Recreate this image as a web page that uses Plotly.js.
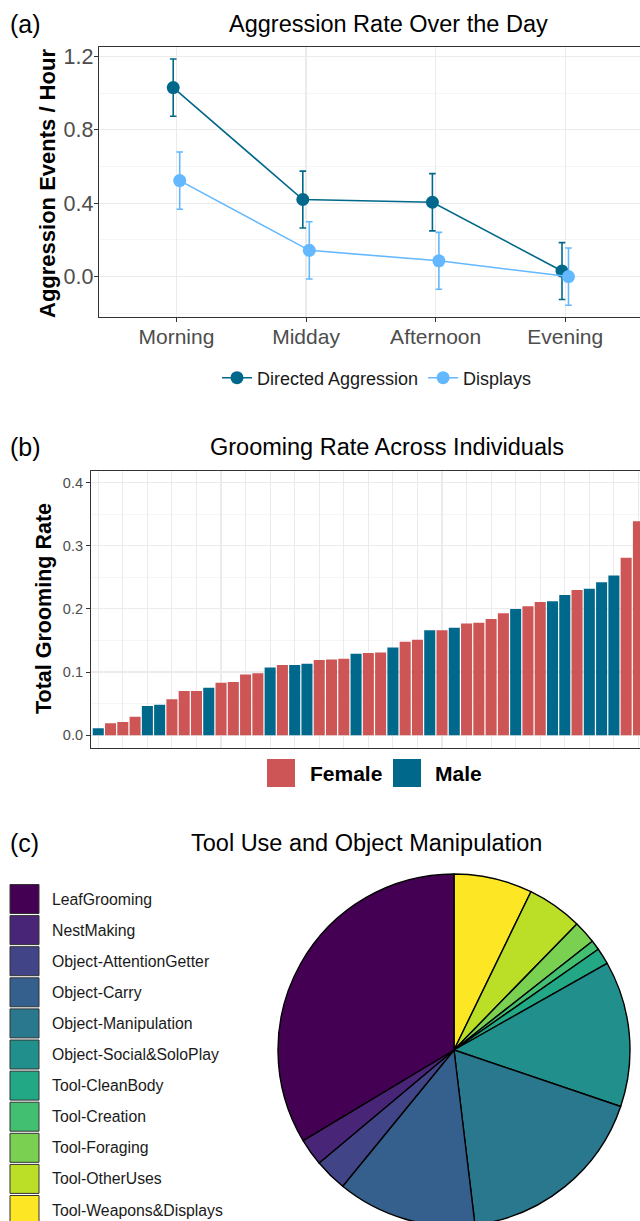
<!DOCTYPE html>
<html><head><meta charset="utf-8">
<script src="https://cdn.plot.ly/plotly-3.0.1.min.js"></script>
<style>
html,body{margin:0;padding:0;overflow:hidden;background:#fff}
#chart{width:640px;height:1221px;overflow:hidden}
</style>
</head><body><div id="chart"></div>
<script>
// ---------- (a) Aggression rate over the day ----------
const timeOfDay = ["Morning", "Midday", "Afternoon", "Evening"];
const directedAggression = [1.03, 0.42, 0.405, 0.03];
const directedAggressionSE = [0.156, 0.155, 0.156, 0.155];
const displays = [0.523, 0.143, 0.086, 0.0];
const displaysSE = [0.156, 0.156, 0.155, 0.156];

// ---------- (b) Grooming rate across individuals ----------
const individuals = ["I01","I02","I03","I04","I05","I06","I07","I08","I09","I10",
  "I11","I12","I13","I14","I15","I16","I17","I18","I19","I20",
  "I21","I22","I23","I24","I25","I26","I27","I28","I29","I30",
  "I31","I32","I33","I34","I35","I36","I37","I38","I39","I40",
  "I41","I42","I43","I44","I45"];
const groomingRate = [0.011, 0.019, 0.021, 0.029, 0.046, 0.048, 0.057, 0.070, 0.070, 0.075,
  0.083, 0.084, 0.096, 0.098, 0.107, 0.111, 0.111, 0.113, 0.119, 0.120,
  0.121, 0.129, 0.130, 0.131, 0.139, 0.148, 0.151, 0.166, 0.166, 0.170,
  0.177, 0.178, 0.184, 0.193, 0.200, 0.204, 0.211, 0.212, 0.222, 0.230,
  0.232, 0.242, 0.253, 0.281, 0.339];
const sex = ["Male","Female","Female","Female","Male","Male","Female","Female","Female","Male",
  "Female","Female","Female","Female","Male","Female","Male","Male","Female","Female",
  "Female","Male","Female","Female","Male","Female","Female","Male","Female","Male",
  "Female","Female","Female","Female","Male","Female","Female","Male","Male","Female",
  "Male","Male","Male","Female","Female"];
const sexLevels = ["Female", "Male"];
const sexColors = {"Female": "#CD5555", "Male": "#00688B"};

// ---------- (c) Tool use and object manipulation ----------
const toolCategories = ["LeafGrooming","NestMaking","Object-AttentionGetter","Object-Carry",
  "Object-Manipulation","Object-Social&SoloPlay","Tool-CleanBody","Tool-Creation",
  "Tool-Foraging","Tool-OtherUses","Tool-Weapons&Displays"];
const toolShares = [33.6, 2.5, 3.0, 12.8, 17.9, 13.4, 1.5, 0.9, 2.1, 5.1, 7.2];
const toolColors = ["#440154","#482576","#414487","#35608D","#2A788E","#21908C",
  "#22A884","#43BF71","#7AD151","#BBDF27","#FDE725"];

// ---------- layout helpers ----------
const W = 660, H = 1235;
const FONT = "Liberation Sans, Arial, Helvetica, sans-serif";
const px = v => v / W;
const py = v => 1 - v / H;
const dodge = 0.025;

const axisCommon = {
  showline: true, mirror: true, linecolor: "#333333", linewidth: 1,
  ticks: "outside", ticklen: 4, tickcolor: "#333333", tickwidth: 1,
  gridcolor: "#EBEBEB", gridwidth: 1.1, zeroline: false, fixedrange: true
};

// pie drawn clockwise from 12 o'clock with the level order reversed,
// so the first level sits counterclockwise from the top (as in coord_polar)
const pieLabels = toolCategories.slice().reverse();
const pieValues = toolShares.slice().reverse();
const pieColors = toolColors.slice().reverse();

const traces = [
  {
    type: "scatter", mode: "lines+markers", name: "Directed Aggression",
    x: timeOfDay.map((_, i) => i - dodge), y: directedAggression,
    error_y: {type: "data", array: directedAggressionSE, color: "#00688B", thickness: 1.6, width: 3.3},
    line: {color: "#00688B", width: 1.6}, marker: {color: "#00688B", size: 13},
    xaxis: "x", yaxis: "y", hoverinfo: "skip"
  },
  {
    type: "scatter", mode: "lines+markers", name: "Displays",
    x: timeOfDay.map((_, i) => i + dodge), y: displays,
    error_y: {type: "data", array: displaysSE, color: "#63B8FF", thickness: 1.6, width: 3.3},
    line: {color: "#63B8FF", width: 1.6}, marker: {color: "#63B8FF", size: 13},
    xaxis: "x", yaxis: "y", hoverinfo: "skip"
  },
  {
    type: "bar", x: individuals, y: groomingRate, width: 0.9,
    marker: {color: sex.map(s => sexColors[s]), line: {width: 0}},
    xaxis: "x2", yaxis: "y2", showlegend: false, hoverinfo: "skip"
  },
  {
    type: "pie", labels: pieLabels, values: pieValues,
    marker: {colors: pieColors, line: {color: "#000000", width: 1.4}},
    sort: false, direction: "clockwise", rotation: 0,
    textinfo: "none", hoverinfo: "skip", showlegend: false,
    domain: {x: [px(278), px(630)], y: [py(1226), py(874)]}
  }
];

const annotations = [];
const ann = (text, x, y, size, opts) => annotations.push(Object.assign({
  text, x: px(x), y: py(y), xref: "paper", yref: "paper", showarrow: false,
  xanchor: "center", yanchor: "middle", font: {family: FONT, size, color: "#000000"}
}, opts || {}));

ann("(a)", 8, 24, 25, {xanchor: "left"});
ann("Aggression Rate Over the Day", 388, 24, 23.5);
ann("<b>Aggression Events / Hour</b>", 48, 184, 22, {textangle: -90});

ann("(b)", 8, 447, 25, {xanchor: "left"});
ann("Grooming Rate Across Individuals", 387, 447, 23.5);
ann("<b>Total Grooming Rate</b>", 44, 609, 21.5, {textangle: -90});

ann("(c)", 8, 843, 25, {xanchor: "left"});
ann("Tool Use and Object Manipulation", 366, 843, 23.5);

const shapes = [];
// legend (b)
const sexKeyX = [267, 393];
const sexTextX = [308, 433];
sexLevels.forEach((s, i) => {
  shapes.push({type: "rect", xref: "paper", yref: "paper",
    x0: px(sexKeyX[i]), x1: px(sexKeyX[i] + 28), y0: py(787), y1: py(759),
    fillcolor: sexColors[s], line: {width: 0}});
  ann("<b>" + s + "</b>", sexTextX[i], 773, 21, {xanchor: "left"});
});
// legend (c)
toolCategories.forEach((c, i) => {
  const top = 884.5 + i * 31.1;
  shapes.push({type: "rect", xref: "paper", yref: "paper",
    x0: px(10), x1: px(39), y0: py(top + 29), y1: py(top),
    fillcolor: toolColors[i], line: {color: "#333333", width: 1}});
  ann(c, 50, top + 14.5, 15.8, {xanchor: "left", font: {family: FONT, size: 15.8, color: "#1A1A1A"}});
});

const layout = {
  width: W, height: H, margin: {l: 0, r: 0, t: 0, b: 0},
  paper_bgcolor: "#FFFFFF", plot_bgcolor: "#FFFFFF",
  font: {family: FONT, color: "#000000"},
  showlegend: true,
  legend: {orientation: "h", x: px(377), xanchor: "center", y: py(378), yanchor: "middle",
    font: {family: FONT, size: 18, color: "#1A1A1A"}, bgcolor: "rgba(0,0,0,0)", itemclick: false},
  xaxis: Object.assign({}, axisCommon, {
    domain: [px(98.7), px(643)], range: [-0.6, 3.6], anchor: "y",
    tickmode: "array", tickvals: timeOfDay.map((_, i) => i), ticktext: timeOfDay,
    tickfont: {family: FONT, size: 21, color: "#4D4D4D"}, ticklabelstandoff: -4
  }),
  yaxis: Object.assign({}, axisCommon, {
    domain: [py(317.3), py(46.7)], range: [-0.222, 1.253], anchor: "x",
    tick0: 0, dtick: 0.4, tickformat: ".1f",
    tickfont: {family: FONT, size: 21.5, color: "#4D4D4D"}, ticklabelstandoff: -4,
    minor: {dtick: 0.2, showgrid: true, gridcolor: "#EFEFEF", gridwidth: 0.6, ticks: ""}
  }),
  xaxis2: Object.assign({}, axisCommon, {
    type: "category", domain: [px(90.9), px(645.8)], range: [-0.6, 44.6], anchor: "y2",
    showticklabels: false, ticks: ""
  }),
  yaxis2: Object.assign({}, axisCommon, {
    domain: [py(747.7), py(471)], range: [-0.0199, 0.4184], anchor: "x2",
    tick0: 0, dtick: 0.1, tickformat: ".1f",
    tickfont: {family: FONT, size: 14.5, color: "#4D4D4D"},
    minor: {dtick: 0.05, showgrid: true, gridcolor: "#EFEFEF", gridwidth: 0.6, ticks: ""}
  }),
  annotations, shapes
};

Plotly.newPlot("chart", traces, layout, {displayModeBar: false, staticPlot: true, responsive: false});
</script>
</body></html>
